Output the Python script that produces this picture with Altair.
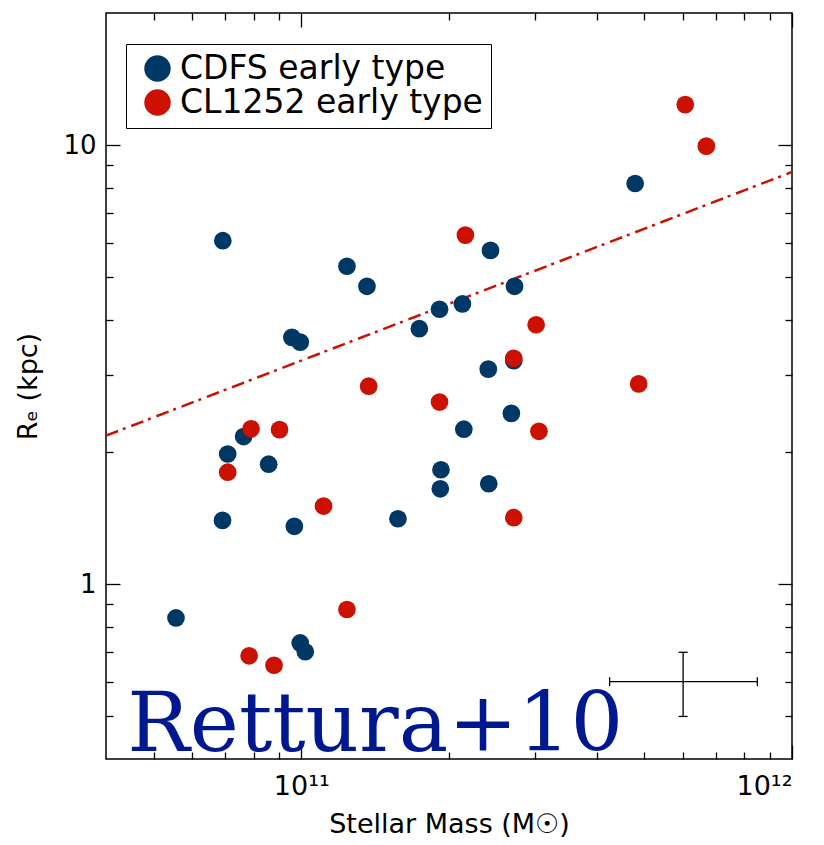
import altair as alt
import pandas as pd

# ---------------- data ----------------
series_names = ["CDFS early type", "CL1252 early type"]
series_colors = ["#003865", "#cc1100"]

cdfs_mass = [6.92e10, 1.239e11, 1.361e11, 9.57e10, 9.95e10, 1.74e11, 4.79e11,
             2.43e11, 2.72e11, 1.913e11, 2.13e11, 2.405e11, 2.71e11, 2.68e11,
             2.144e11, 7.63e10, 7.08e10, 8.58e10, 6.91e10, 9.68e10, 1.574e11,
             5.555e10, 9.95e10, 1.019e11, 1.926e11, 1.92e11, 2.41e11]
cdfs_re = [6.06, 5.30, 4.77, 3.65, 3.56, 3.82, 8.18,
           5.76, 4.77, 4.23, 4.35, 3.09, 3.23, 2.45,
           2.255, 2.17, 1.98, 1.877, 1.398, 1.355, 1.41,
           0.838, 0.735, 0.702, 1.823, 1.65, 1.694]

cl_mass = [6.06e11, 6.69e11, 2.16e11, 3.01e11, 2.71e11, 4.87e11, 1.372e11,
           1.913e11, 7.90e10, 9.03e10, 7.08e10, 1.11e11, 1.239e11, 7.83e10,
           8.80e10, 3.05e11, 2.71e11]
cl_re = [12.37, 9.95, 6.24, 3.90, 3.27, 2.86, 2.825,
         2.60, 2.26, 2.25, 1.80, 1.507, 0.876, 0.687,
         0.654, 2.23, 1.418]

# dash-dot relation (end points)
line_mass = [4.0e10, 1.0e12]
line_re = [2.18, 8.69]

# typical error bar
err_mass = [6.0e11]
err_mass_lo = [4.25e11]
err_mass_hi = [8.5e11]
err_re = [0.6]
err_re_lo = [0.5]
err_re_hi = [0.7]

# axis ticks
x_major = [1e11, 1e12]
x_minor = [5e10, 6e10, 7e10, 8e10, 9e10,
           2e11, 3e11, 4e11, 5e11, 6e11, 7e11, 8e11, 9e11]
y_major = [1, 10]
y_minor = [0.5, 0.6, 0.7, 0.8, 0.9, 2, 3, 4, 5, 6, 7, 8, 9]

annotation = ["Rettura+10"]
annotation_mass = [4.42e10]
annotation_re = [0.417]

# ---------------- tables ----------------
pts = pd.DataFrame({
    "sample": [series_names[0]] * len(cdfs_mass) + [series_names[1]] * len(cl_mass),
    "mass": cdfs_mass + cl_mass,
    "re": cdfs_re + cl_re,
})
pts["ord"] = range(len(pts))

line_df = pd.DataFrame({"mass": line_mass, "re": line_re})
err_df = pd.DataFrame({"mass": err_mass, "lo_m": err_mass_lo, "hi_m": err_mass_hi,
                       "re": err_re, "lo_r": err_re_lo, "hi_r": err_re_hi})
capx_df = pd.DataFrame({"mass": err_mass_lo + err_mass_hi, "re": err_re * 2})
capy_df = pd.DataFrame({"mass": err_mass * 2, "re": err_re_lo + err_re_hi})
ann_df = pd.DataFrame({"mass": annotation_mass, "re": annotation_re, "label": annotation})

W, H = 686, 746
FONT = "DejaVu Sans"

xscale = alt.Scale(type="log", domain=[4e10, 1e12], nice=False)
yscale = alt.Scale(type="log", domain=[0.4, 20], nice=False)


def tick_axis(orient, offset, values, size):
    return alt.Axis(orient=orient, offset=offset, values=values, tickSize=size,
                    ticks=True, labels=False, domain=False, grid=False, title=None)


main_x_axis = alt.Axis(values=x_major, ticks=False, tickSize=0, domain=False, grid=False,
                       labelExpr="datum.value < 5e11 ? '10\u00b9\u00b9' : '10\u00b9\u00b2'",
                       labelFontSize=27, labelPadding=14, title="Stellar Mass (M\u2609)",
                       titleFontSize=27, titlePadding=12)
main_y_axis = alt.Axis(values=y_major, ticks=False, tickSize=0, domain=False, grid=False,
                       labelExpr="datum.value < 5 ? '1' : '10'",
                       labelFontSize=26, labelPadding=10, title="R\u2091 (kpc)",
                       titleFontSize=27, titlePadding=20)

points = alt.Chart(pts).mark_circle(size=314, opacity=1).encode(
    x=alt.X("mass:Q", scale=xscale, axis=main_x_axis),
    y=alt.Y("re:Q", scale=yscale, axis=main_y_axis),
    color=alt.Color("sample:N",
                    scale=alt.Scale(domain=series_names, range=series_colors),
                    legend=alt.Legend(title=None, orient="none", legendX=20, legendY=31,
                                      strokeColor="black", fillColor="white", padding=8,
                                      symbolOffset=7, symbolSize=700, symbolType="circle",
                                      symbolStrokeWidth=0, labelFont=FONT, labelFontSize=33,
                                      labelOffset=6, labelLimit=600, rowPadding=0,
                                      labelColor="black")),
    order=alt.Order("ord:Q"),
)

line = alt.Chart(line_df).mark_line(color="#cc1100", strokeWidth=2.5,
                                    strokeDash=[13, 5, 3, 6]).encode(
    x=alt.X("mass:Q", scale=xscale, axis=tick_axis("top", -H, x_major, 14)),
    y=alt.Y("re:Q", scale=yscale, axis=tick_axis("right", -W, y_major, 14)),
)

err_h = alt.Chart(err_df).mark_rule(color="black", strokeWidth=1.3).encode(
    x=alt.X("lo_m:Q", scale=xscale, axis=tick_axis("top", -H, x_minor, 7)),
    x2="hi_m:Q",
    y=alt.Y("re:Q", scale=yscale, axis=tick_axis("right", -W, y_minor, 7)),
)

err_v = alt.Chart(err_df).mark_rule(color="black", strokeWidth=1.3).encode(
    x=alt.X("mass:Q", scale=xscale, axis=tick_axis("bottom", -H, x_major, 14)),
    y=alt.Y("lo_r:Q", scale=yscale, axis=tick_axis("left", -W, y_major, 14)),
    y2="hi_r:Q",
)

cap_x = alt.Chart(capx_df).mark_tick(orient="vertical", size=9, thickness=1.3,
                                     color="black", opacity=1).encode(
    x=alt.X("mass:Q", scale=xscale, axis=None),
    y=alt.Y("re:Q", scale=yscale, axis=None),
)

cap_y = alt.Chart(capy_df).mark_tick(orient="horizontal", size=9, thickness=1.3,
                                     color="black", opacity=1).encode(
    x=alt.X("mass:Q", scale=xscale, axis=None),
    y=alt.Y("re:Q", scale=yscale, axis=None),
)

text = alt.Chart(ann_df).mark_text(font="DejaVu Serif", fontSize=83, color="#00188f",
                                   align="left", baseline="alphabetic").encode(
    x=alt.X("mass:Q", scale=xscale, axis=tick_axis("bottom", -H, x_minor, 7)),
    y=alt.Y("re:Q", scale=yscale, axis=tick_axis("left", -W, y_minor, 7)),
    text="label:N",
)

chart = alt.layer(line, err_h, err_v, cap_x, cap_y, text, points).resolve_axis(
    x="independent", y="independent"
).properties(
    width=W, height=H,
    autosize=alt.AutoSizeParams(type="none"),
    padding={"left": 98, "top": 5, "right": 20, "bottom": 80},
).configure_view(
    stroke="black", strokeWidth=1.5
).configure_axis(
    grid=False, tickColor="black", tickWidth=1.3, labelColor="black",
    titleColor="black", labelFont=FONT, titleFont=FONT, titleFontWeight="normal"
)

chart.save("out.html", embed_options={"renderer": "svg", "actions": False})
